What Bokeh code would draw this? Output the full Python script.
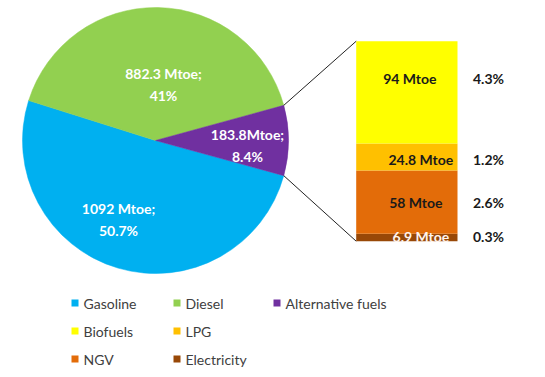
import numpy as np
from bokeh.plotting import figure
from bokeh.models import Range1d
from bokeh.core.properties import value
from bokeh.embed import file_html
from bokeh.resources import INLINE

# ---- data ----
pie_names = ["Gasoline", "Diesel", "Alternative fuels"]
pie_values = [1092.0, 882.3, 183.8]
pie_labels = ["1092 Mtoe;\n50.7%", "882.3 Mtoe;\n41%", "183.8Mtoe;\n8.4%"]
pie_colors = ["#00B0F0", "#92D050", "#7030A0"]

bar_names = ["Biofuels", "LPG", "NGV", "Electricity"]
bar_values = [94.0, 24.8, 58.0, 6.9]
bar_labels = ["94 Mtoe", "24.8 Mtoe", "58 Mtoe", "6.9 Mtoe"]
bar_pcts = ["4.3%", "1.2%", "2.6%", "0.3%"]
bar_colors = ["#FFFF00", "#FFC000", "#E36C09", "#984807"]

legend_names = ["Gasoline", "Diesel", "Alternative fuels", "Biofuels", "LPG", "NGV", "Electricity"]
legend_colors = ["#00B0F0", "#92D050", "#7030A0", "#FFFF00", "#FFC000", "#E36C09", "#984807"]

W, H = 537, 369
FONT = "Lato"

p = figure(width=W, height=H, output_backend="svg", toolbar_location=None,
           x_range=Range1d(0, W), y_range=Range1d(377 - H, 377),
           min_border=0, outline_line_color=None)
p.axis.visible = False
p.grid.visible = False
p.background_fill_color = "white"

def Y(ys):  # screen-style y -> plot y
    return 377 - ys

# ---- pie ----
cx, cy, r = 155, Y(140), 133
vals = np.array(pie_values)
ang = vals / vals.sum() * 2 * np.pi
alt = ang[2]
st = {}
cur = -alt / 2
for i in [2, 1, 0]:
    st[i] = (cur, cur + ang[i])
    cur += ang[i]
starts = [st[i][0] for i in range(3)]
ends = [st[i][1] for i in range(3)]
p.wedge(x=[cx] * 3, y=[cy] * 3, radius=r, start_angle=starts, end_angle=ends,
        fill_color=pie_colors, line_color=pie_colors, line_width=0.5)

# pie labels
lab_pos = [(118, 219), (163, 84), (247, 145)]
for (lx, ly), t in zip(lab_pos, pie_labels):
    p.text(x=[lx], y=[Y(ly)], text=[t], text_align="center", text_baseline="middle",
           text_color="white", text_font=value(FONT), text_font_style="bold",
           text_font_size="14px", text_line_height=1.3)

# ---- stacked bar ----
bx0, bx1 = 355.7, 457
bar_bottom, bar_px = Y(240.7), 200.0
scale = bar_px / sum(bar_values)
bv = np.array(bar_values)[::-1]  # electricity at bottom
bcol = bar_colors[::-1]
tops = bar_bottom + np.cumsum(bv) * scale
bots = tops - bv * scale
p.quad(left=bx0, right=bx1, bottom=bots, top=tops, fill_color=bcol, line_color=None)

mids = ((tops + bots) / 2)[::-1]
label_dx = [3, 14, 9, 14]
label_dy = [-14, 2, 0, -1]
text_cols = ["#1a1a1a", "#1a1a1a", "#1a1a1a", "#fff4ee"]
for i in range(4):
    py = mids[i] - label_dy[i]
    p.text(x=[(bx0 + bx1) / 2 + label_dx[i]], y=[py],
           text=[bar_labels[i]], text_align="center", text_baseline="middle",
           text_color=text_cols[i], text_font=value(FONT), text_font_style="bold",
           text_font_size="14px")
    p.text(x=[488], y=[py], text=[bar_pcts[i]], text_align="center", text_baseline="middle",
           text_color="#1a1a1a", text_font=value(FONT), text_font_style="bold",
           text_font_size="14px")

# connector lines
ux, uy = cx + r * np.cos(alt / 2), cy + r * np.sin(alt / 2)
lx_, ly_ = cx + r * np.cos(-alt / 2), cy + r * np.sin(-alt / 2)
p.segment(x0=[ux, lx_], y0=[uy, ly_], x1=[bx0, bx0], y1=[tops[-1], bar_bottom],
          line_color="#222222", line_width=1)

# ---- legend ----
col_x = [71, 173, 273]
row_y = [302.5, 330.5, 358.5]
grid = [(0, 0), (0, 1), (0, 2), (1, 0), (1, 1), (2, 0), (2, 1)]
for (rw, cl), nm, c in zip(grid, legend_names, legend_colors):
    p.rect(x=[col_x[cl] + 3.5], y=[Y(row_y[rw])], width=7, height=7, fill_color=c, line_color=None)
    p.text(x=[col_x[cl] + 12], y=[Y(row_y[rw])], text=[nm], text_align="left", text_baseline="middle",
           text_color="#404040", text_font=value(FONT), text_font_size="14px")

open("out.html", "w").write(file_html(p, INLINE))
